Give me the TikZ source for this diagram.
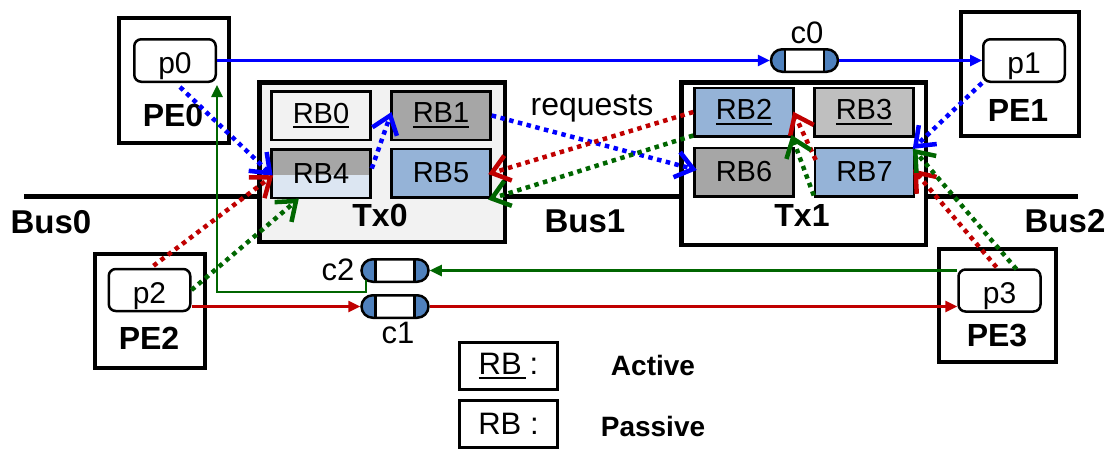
\documentclass[tikz,border=0pt]{standalone}
\usepackage{fontspec}
\setmainfont{Liberation Sans}
\usetikzlibrary{arrows.meta,calc,shapes.misc,decorations.markings}

\definecolor{rbblue}{HTML}{95B3D7}
\definecolor{rbdark}{HTML}{A6A6A6}
\definecolor{rbmid}{HTML}{BFBFBF}
\definecolor{rblight}{HTML}{F2F2F2}
\definecolor{rbpale}{HTML}{DCE6F2}
\definecolor{capblue}{HTML}{4F81BD}
\definecolor{reqblue}{HTML}{0000FF}
\definecolor{reqred}{HTML}{C00000}
\definecolor{reqgreen}{HTML}{006600}

% underlined label with a thick rule
\newsavebox\ulstore
\newcommand\ulrb[1]{\sbox\ulstore{#1}\rlap{\rule[-5pt]{\wd\ulstore}{2pt}}\usebox\ulstore}

\tikzset{
  pebox/.style={draw, line width=4pt, fill=white, inner sep=0},
  port/.style={draw, line width=2.5pt, rounded corners=7pt, fill=white, inner sep=0,
    minimum width=81.5pt, minimum height=42.5pt, text height=26pt, text depth=0pt,
    font=\fontsize{30}{32}\selectfont},
  txbox/.style={draw, line width=4.5pt, inner sep=0},
  rbbox/.style={draw, line width=2.5pt, inner sep=0, minimum width=99pt, minimum height=48.5pt,
    font=\fontsize{29}{32}\selectfont},
  boldlbl/.style={inner sep=0, font=\bfseries\fontsize{32}{34}\selectfont},
  plainlbl/.style={inner sep=0, font=\fontsize{31}{33}\selectfont},
  legbox/.style={draw, line width=3pt, inner sep=0, minimum width=98pt, minimum height=47pt,
    font=\fontsize{31}{33}\selectfont},
  legtxt/.style={inner sep=0, font=\bfseries\fontsize{28}{30}\selectfont},
  capsule/.style={rounded rectangle, draw, line width=2.5pt, inner sep=0, fill=white,
    minimum width=67pt, minimum height=22.5pt,
    path picture={
      \fill[capblue] (path picture bounding box.south west) rectangle ([xshift=14pt]path picture bounding box.north west);
      \fill[capblue] (path picture bounding box.south east) rectangle ([xshift=-14pt]path picture bounding box.north east);
      \draw[line width=2.5pt] ([xshift=14pt]path picture bounding box.south west) -- ([xshift=14pt]path picture bounding box.north west);
      \draw[line width=2.5pt] ([xshift=-14pt]path picture bounding box.south east) -- ([xshift=-14pt]path picture bounding box.north east);
    }},
  bus/.style={line width=5pt},
  stub/.style={line width=4pt},
  link/.style={line width=2.5pt, -{Triangle[length=12pt,width=11pt]}},
  % dotted request line ending in a solid open chevron
  req/.style={line width=4.5pt, dash pattern=on 4.5pt off 4.5pt,
    postaction={decorate, decoration={markings,
      mark=at position 1 with {\draw[solid, line width=4.5pt, line join=miter]
        (-17pt,13pt) -- (0pt,0pt) -- (-17pt,-13pt);}}}}
}

\begin{document}
\begin{tikzpicture}[x=1pt, y=-1pt]
\useasboundingbox (0,0) rectangle (1116,451);

% shared bus
\coordinate (busL) at (24,196);
\coordinate (busR) at (1078,196);
\draw[bus] (busL) -- (busR);

% processing elements
\node[pebox, minimum width=110pt, minimum height=125pt] (pe0) at (174,80.5) {};
\node[pebox, minimum width=118pt, minimum height=124pt] (pe1) at (1020,74) {};
\node[pebox, minimum width=110pt, minimum height=114pt] (pe2) at (150,311) {};
\node[pebox, minimum width=117pt, minimum height=113pt] (pe3) at (997.5,305.5) {};

% bus stubs
\draw[stub] ($(pe0.south)+(1,0)$) -- ($(pe0.south)+(1,0)$ |- busL);
\draw[stub] ($(pe2.north)+(-2,0)$) -- ($(pe2.north)+(-2,0)$ |- busL);
\draw[stub] ($(pe1.south)+(3,0)$) -- ($(pe1.south)+(3,0)$ |- busR);
\draw[stub] ($(pe3.north)+(14.5,0)$) -- ($(pe3.north)+(14.5,0)$ |- busR);

\node[port] (p0) at (175,60.5) {p0};
\node[port] (p1) at (1024,60.5) {p1};
\node[port, minimum height=42pt] (p2) at (149.5,290) {p2};
\node[port, minimum width=82pt, minimum height=42pt] (p3) at (999.5,290.5) {p3};

\node[boldlbl] (pe0lbl) at (173,115) {PE0};
\node[boldlbl] (pe1lbl) at (1018,110) {PE1};
\node[boldlbl] (pe2lbl) at (149,338) {PE2};
\node[boldlbl] (pe3lbl) at (997,335) {PE3};

% transaction blocks
\node[txbox, fill=rblight, minimum width=245.5pt, minimum height=159.5pt] (tx0) at (382,162) {};
\node[txbox, fill=white, minimum width=244.5pt, minimum height=162.5pt] (tx1) at (803.5,163.5) {};
\node[boldlbl] (tx0lbl) at (380,215) {Tx0};
\node[boldlbl] (tx1lbl) at (802,215) {Tx1};

\node[rbbox, fill=rblight] (rb0) at (321,115.5) {\ulrb{RB0}};
\node[rbbox, fill=rbdark] (rb1) at (441,115.5) {\ulrb{RB1}};
\node[rbbox, fill=rbpale, path picture={
    \fill[rbdark] (path picture bounding box.north west) rectangle ([yshift=-26pt]path picture bounding box.north east);
  }] (rb4) at (321,173.5) {RB4};
\node[rbbox, fill=rbblue] (rb5) at (441,173) {RB5};

\node[rbbox, fill=rbblue] (rb2) at (744,112) {\ulrb{RB2}};
\node[rbbox, fill=rbmid] (rb3) at (864,112) {\ulrb{RB3}};
\node[rbbox, fill=rbdark] (rb6) at (744,172) {RB6};
\node[rbbox, fill=rbblue] (rb7) at (864.5,172) {RB7};

% bus names
\node[boldlbl, font=\bfseries\fontsize{33}{35}\selectfont] (bus0) at (51,222) {Bus0};
\node[boldlbl, font=\bfseries\fontsize{33}{35}\selectfont] (bus1) at (585,221) {Bus1};
\node[boldlbl, font=\bfseries\fontsize{33}{35}\selectfont] (bus2) at (1065,221) {Bus2};

% channels
\node[capsule] (c0) at (804.5,60.5) {};
\node[capsule] (c2) at (395,270.5) {};
\node[capsule] (c1) at (395,306.5) {};
\node[plainlbl, anchor=base] (c0lbl) at (807,43) {c0};
\node[plainlbl, anchor=base] (c2lbl) at (338,280) {c2};
\node[plainlbl, anchor=base] (c1lbl) at (398,343) {c1};

% channel links
\draw[link, reqblue] (p0.east) -- (c0.west);
\draw[link, reqblue] (c0.east) -- (p1.west);
\draw[link, reqred] (p2.east |- c1.west) -- (c1.west);
\draw[link, reqred] (c1.east) -- (c1.east -| p3.west);
\draw[link, reqgreen] (c2.east -| p3.west) -- (c2.east);
\draw[link, reqgreen] ($(c2.south)+(-29,-3)$) -- ++(0,12) -| ($(p0.south east)+(0,2)$);

% requests
\node[plainlbl, anchor=base, font=\fontsize{32}{34}\selectfont] (reqlbl) at (592,115) {requests};

\draw[req, reqblue] ($(p0.south)+(5,4)$) -- (rb4.west);
\draw[req, reqblue] ($(rb4.east)+(0,-5)$) -- (rb1.west);
\draw[req, reqblue] (rb1.east) -- ($(rb6.west)+(0,-3)$);
\draw[req, reqblue] (p1.south west) -- (rb7.north east);

\draw[req, reqred] ($(p2.north)+(4,-2)$) -- ($(rb4.west)+(0,4)$);
\draw[req, reqred] (rb2.west) -- (rb5.east);
\draw[req, reqred] ($(rb7.west)+(2,-12)$) -- ($(rb2.east)+(0,3)$);
\draw[req, reqred] ($(p3.north)+(-3,-1)$) -- (rb7.east);

\draw[req, reqgreen] (p2.east) -- ($(rb4.south)+(-25,2)$);
\draw[req, reqgreen] ($(rb2.south west)+(0,-2)$) -- (rb5.south east);
\draw[req, reqgreen] ($(rb7.south west)+(0,-2)$) -- ($(rb2.south east)+(-2,1)$);
\draw[req, reqgreen] ($(p3.north)+(17,1)$) -- ($(rb7.north east)+(0,5)$);

% legend
\node[legbox] (leg1) at (508.5,366) {\ulrb{RB\kern4pt}\kern4pt:};
\node[legbox] (leg2) at (508.5,424) {RB :};
\node[legtxt] (act) at (653,365) {Active};
\node[legtxt] (pas) at (653,426) {Passive};
\end{tikzpicture}
\end{document}
